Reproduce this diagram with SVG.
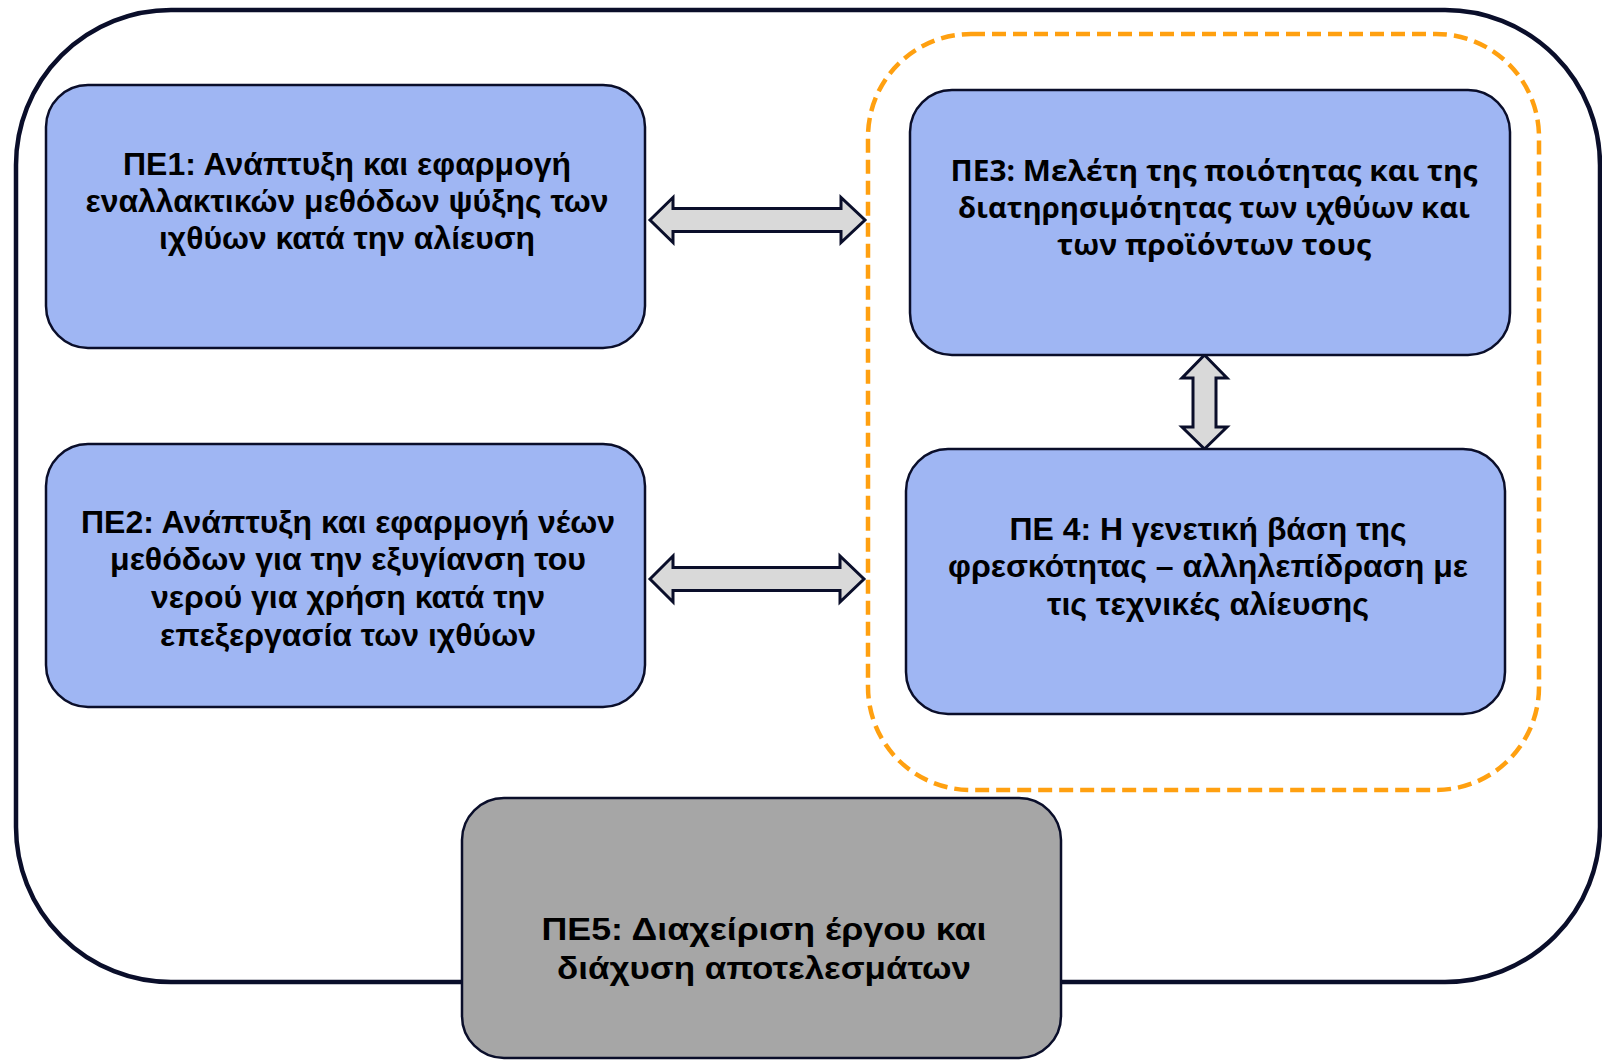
<svg xmlns="http://www.w3.org/2000/svg" width="1602" height="1061" viewBox="0 0 1602 1061">
<style>
.frame{fill:#fff;stroke:#0a0e2a;stroke-width:4.5}
.group{fill:none;stroke:#ffa010;stroke-width:4.5;stroke-dasharray:14 7}
.box{fill:#9fb6f3;stroke:#0a0e2a;stroke-width:2.5}
.grey{fill:#a6a6a6;stroke:#0a0e2a;stroke-width:2.5}
.arrow{fill:#d9d9d9;stroke:#0a0e2a;stroke-width:3;stroke-linejoin:miter}
.t{font-family:"Liberation Sans",Arial,sans-serif;font-weight:bold;font-size:31px;fill:#000;text-anchor:middle}
.t3{font-family:"Open Sans","Liberation Sans",sans-serif;font-weight:bold;font-size:29px;fill:#000;text-anchor:middle}
</style>
<rect width="1602" height="1061" fill="#fff"/>
<rect id="frame" class="frame" x="16" y="10" width="1584" height="972" rx="155" ry="155"/>
<rect id="group" class="group" x="868" y="34" width="671" height="756" rx="103" ry="103"/>
<g id="connectors">
<path class="arrow" d="M650,220 L673,197.5 L673,208.5 L841,208.5 L841,197.5 L865,220 L841,242.5 L841,231.5 L673,231.5 L673,242.5 Z"/>
<path class="arrow" d="M650,579 L673,556 L673,567.5 L840,567.5 L840,556 L864,579 L840,602 L840,590.5 L673,590.5 L673,602 Z"/>
<path class="arrow" d="M1204.5,355 L1227,378 L1216,378 L1216,427 L1227,427 L1204.5,449 L1182,427 L1193,427 L1193,378 L1182,378 Z"/>
</g>
<g id="pe1">
<rect class="box" x="46" y="85" width="599" height="263" rx="42" ry="42"/>
<text class="t" x="347" y="175" textLength="448" lengthAdjust="spacingAndGlyphs">ΠΕ1: Ανάπτυξη και εφαρμογή</text>
<text class="t" x="347" y="212" textLength="523" lengthAdjust="spacingAndGlyphs">εναλλακτικών μεθόδων ψύξης των</text>
<text class="t" x="347" y="249" textLength="376" lengthAdjust="spacingAndGlyphs">ιχθύων κατά την αλίευση</text>
</g>
<g id="pe2">
<rect class="box" x="46" y="444" width="599" height="263" rx="42" ry="42"/>
<text class="t" x="348" y="533" textLength="534" lengthAdjust="spacingAndGlyphs">ΠΕ2: Ανάπτυξη και εφαρμογή νέων</text>
<text class="t" x="348" y="570" textLength="476" lengthAdjust="spacingAndGlyphs">μεθόδων για την εξυγίανση του</text>
<text class="t" x="348" y="608" textLength="394" lengthAdjust="spacingAndGlyphs">νερού για χρήση κατά την</text>
<text class="t" x="348" y="646" textLength="376" lengthAdjust="spacingAndGlyphs">επεξεργασία των ιχθύων</text>
</g>
<g id="pe3">
<rect class="box" x="910" y="90" width="600" height="265" rx="42" ry="42"/>
<text class="t3" x="1214" y="181" textLength="527" lengthAdjust="spacingAndGlyphs">ΠΕ3: Μελέτη της ποιότητας και της</text>
<text class="t3" x="1214" y="218" textLength="512" lengthAdjust="spacingAndGlyphs">διατηρησιμότητας των ιχθύων και</text>
<text class="t3" x="1214" y="255" textLength="314" lengthAdjust="spacingAndGlyphs">των προϊόντων τους</text>
</g>
<g id="pe4">
<rect class="box" x="906" y="449" width="599" height="265" rx="42" ry="42"/>
<text class="t" x="1208" y="540" textLength="397" lengthAdjust="spacingAndGlyphs">ΠΕ 4: Η γενετική βάση της</text>
<text class="t" x="1208" y="577" textLength="520" lengthAdjust="spacingAndGlyphs">φρεσκότητας – αλληλεπίδραση με</text>
<text class="t" x="1208" y="615" textLength="322" lengthAdjust="spacingAndGlyphs">τις τεχνικές αλίευσης</text>
</g>
<g id="pe5">
<rect class="grey" x="462" y="798" width="599" height="260" rx="42" ry="42"/>
<text class="t" x="764" y="940" textLength="445" lengthAdjust="spacingAndGlyphs">ΠΕ5: Διαχείριση έργου και</text>
<text class="t" x="764" y="979" textLength="414" lengthAdjust="spacingAndGlyphs">διάχυση αποτελεσμάτων</text>
</g>
</svg>
